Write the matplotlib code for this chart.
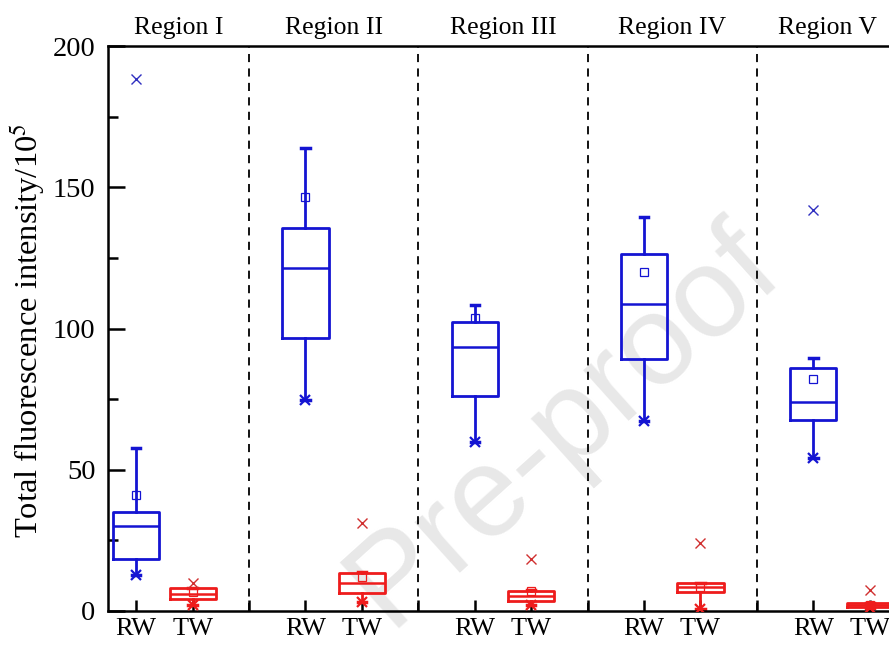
import numpy as np
import matplotlib
matplotlib.use("Agg")
import matplotlib.pyplot as plt

plt.rcParams['font.family'] = ['Liberation Serif', 'DejaVu Serif']
plt.rcParams['mathtext.fontset'] = 'stix'

regions = ["Region I", "Region II", "Region III", "Region IV", "Region V"]
groups = ["RW", "TW"]

# RW (raw water) box statistics
rw_lo = [12.7, 74.7, 59.9, 67.4, 54.0]
rw_q1 = [18.3, 96.8, 76.2, 89.2, 67.6]
rw_med = [30.1, 121.3, 93.6, 108.7, 73.9]
rw_q3 = [34.9, 135.7, 102.4, 126.3, 85.9]
rw_hi = [57.7, 163.8, 108.3, 139.4, 89.7]
rw_mean = [41.0, 146.7, 103.6, 119.9, 82.2]
rw_out = [[188.3], [], [], [], [142.0]]

# TW (treated water) box statistics
tw_lo = [2.1, 3.3, 2.1, 0.6, 1.0]
tw_q1 = [4.1, 6.5, 3.5, 6.6, 1.3]
tw_med = [6.0, 9.8, 5.3, 8.4, 2.0]
tw_q3 = [8.0, 13.3, 7.1, 10.0, 2.7]
tw_hi = [8.3, 13.8, 7.6, 10.0, 3.0]
tw_mean = [6.8, 12.0, 7.0, 8.6, 2.0]
tw_out = [[9.9], [31.3], [18.3], [24.0], [7.4]]

blue = '#1414d2'
red = '#ee1c1c'

fig = plt.figure(figsize=(8.89, 6.45), dpi=100)
ax = fig.add_axes([108 / 889, 34 / 645, 790 / 889, 565 / 645])

def stats(lo, q1, med, q3, hi, mean, out):
    res = []
    for i in range(len(lo)):
        res.append(dict(whislo=lo[i], q1=q1[i], med=med[i], q3=q3[i],
                        whishi=hi[i], mean=mean[i], fliers=out[i]))
    return res

rw_pos = [1 + 3 * i for i in range(5)]
tw_pos = [2 + 3 * i for i in range(5)]
seps = [3 + 3 * i for i in range(4)]

for st, pos, col, ocol in [(stats(rw_lo, rw_q1, rw_med, rw_q3, rw_hi, rw_mean, rw_out), rw_pos, blue, '#3030c0'),
                           (stats(tw_lo, tw_q1, tw_med, tw_q3, tw_hi, tw_mean, tw_out), tw_pos, red, '#d03030')]:
    ax.bxp(st, positions=pos, widths=0.82, capwidths=0.15, showmeans=True,
           boxprops=dict(color=col, linewidth=2.0),
           medianprops=dict(color=col, linewidth=1.8),
           whiskerprops=dict(color=col, linewidth=2.0),
           capprops=dict(color=col, linewidth=2.5),
           meanprops=dict(marker='s', markerfacecolor='none', markeredgecolor=col,
                          markersize=5.5, markeredgewidth=0.9),
           flierprops=dict(marker='x', markeredgecolor=ocol, markersize=7,
                           markeredgewidth=1.0, linestyle='none'),
           manage_ticks=False)
    lows = [s['whislo'] for s in st]
    ax.plot(pos, lows, linestyle='none', marker='x', color=col, markersize=7,
            markeredgewidth=1.6, zorder=3)

for s in seps:
    ax.axvline(s, color='black', linestyle=(0, (4.5, 3.5)), linewidth=1.3, zorder=1)

ax.set_xlim(0.5, 14.5)
ax.set_ylim(0, 200)
ax.set_yticks([0, 50, 100, 150, 200])
ax.set_yticks([25, 75, 125, 175], minor=True)

xt = sorted(rw_pos + tw_pos + seps)
ax.set_xticks(xt)
ax.set_xticklabels(["" if p in seps else ("RW" if p in rw_pos else "TW") for p in xt])

ax.tick_params(axis='both', which='major', direction='in', width=1.8)
ax.tick_params(axis='y', which='major', length=12, pad=9, labelsize=20.5)
ax.tick_params(axis='y', which='minor', direction='in', length=7, width=1.8)
ax.tick_params(axis='x', which='major', length=8, pad=5, labelsize=19)
for sp in ax.spines.values():
    sp.set_linewidth(1.8)

ax.set_ylabel("Total fluorescence intensity/10$^{5}$", fontsize=23.4)
ax.yaxis.set_label_coords(-0.076, 0.497)

bounds = [0.5] + seps + [14.5]
for i, name in enumerate(regions):
    ax.text((bounds[i] + bounds[i + 1]) / 2, 1.012, name, transform=ax.get_xaxis_transform(),
            ha='center', va='bottom', fontsize=18.5)

# watermark, behind the boxes
ax.text(0.635, 0.34, "Pre-proof", transform=fig.transFigure, rotation=42, fontsize=92,
        color='#e8e8e8', family='Liberation Sans', ha='center', va='center', zorder=0.5)

fig.savefig("out.png", dpi=100)
